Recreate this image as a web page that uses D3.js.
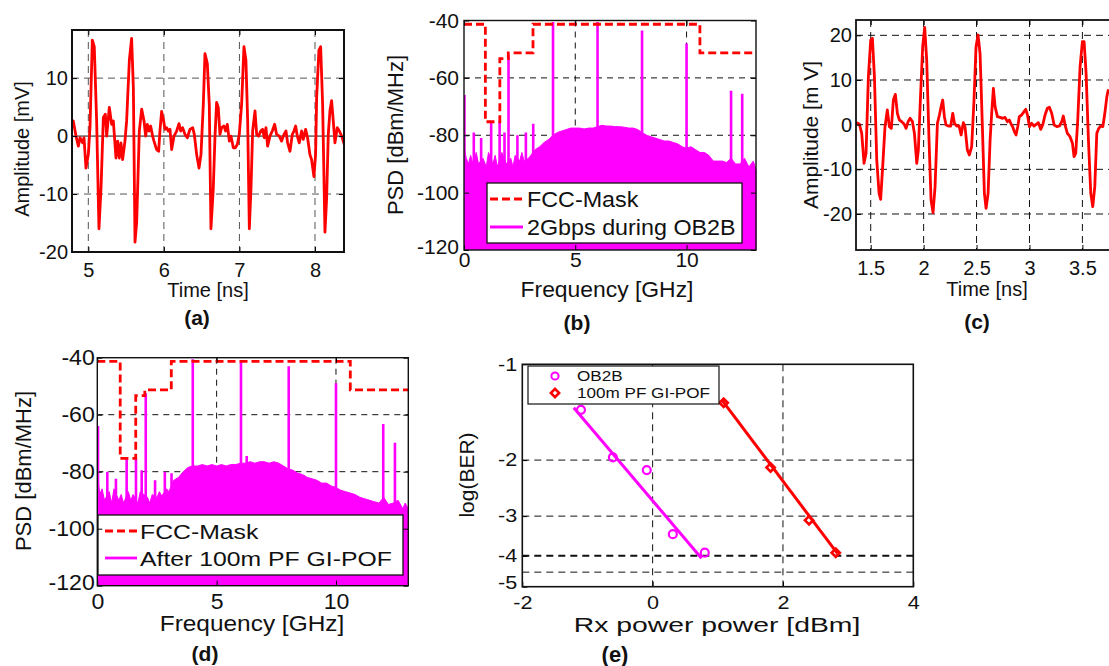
<!DOCTYPE html>
<html><head><meta charset="utf-8">
<script src="https://cdn.jsdelivr.net/npm/d3@7/dist/d3.min.js"></script>
<style>body{margin:0;background:#fff}</style>
</head><body><svg id="c" width="1109" height="666" xmlns="http://www.w3.org/2000/svg"></svg>
<script>
// ---------------- DATA ----------------
// (a) time waveform, 2 Gbps OB2B
const timeA = [4.779,4.801,4.837,4.868,4.890,4.925,4.943,4.969,5.000,5.022,5.053,5.079,5.110,5.141,5.168,5.199,5.225,5.243,5.278,5.309,5.331,5.366,5.388,5.410,5.432,5.454,5.485,5.507,5.543,5.573,5.596,5.618,5.640,5.675,5.706,5.737,5.759,5.781,5.803,5.825,5.851,5.869,5.904,5.931,5.948,5.970,5.993,6.015,6.037,6.059,6.081,6.103,6.134,6.169,6.200,6.222,6.248,6.279,6.310,6.345,6.381,6.403,6.434,6.465,6.491,6.522,6.544,6.575,6.601,6.623,6.654,6.676,6.698,6.720,6.742,6.764,6.795,6.817,6.840,6.866,6.888,6.919,6.945,6.972,6.998,7.029,7.060,7.086,7.109,7.131,7.153,7.175,7.206,7.228,7.254,7.281,7.307,7.329,7.351,7.373,7.404,7.435,7.466,7.492,7.528,7.558,7.589,7.616,7.638,7.669,7.700,7.722,7.744,7.766,7.792,7.823,7.845,7.876,7.902,7.933,7.955,7.986,8.008,8.022,8.052,8.075,8.101,8.132,8.154,8.176,8.198,8.220,8.242,8.264,8.295,8.322,8.353,8.388];
const ampA = [1.45,2.62,0,-1.74,-0.29,-1.16,-0.29,-5.52,-3.20,1.45,16.57,15.41,2.62,-15.99,-9.01,3.20,3.78,0,4.94,2.03,2.62,-3.78,-0.87,-3.78,-1.16,-4.07,-0.87,2.62,13.08,16.86,8.43,-18.31,-14.83,0.87,4.65,2.62,0,2.03,0.87,1.74,0,-0.87,-2.33,-2.62,0.87,4.24,2.91,1.16,1.45,0.87,1.16,-2.33,0,0.87,2.15,0.87,1.45,0.29,-0.29,1.16,1.45,0.29,-3.20,-5.52,-3.20,5.52,14.24,12.50,5.52,-15.99,-9.01,-0.29,5.81,4.94,0.29,1.45,1.74,0.87,2.03,-0.87,0,-2.03,-2.03,-1.45,0.29,5.52,15.41,13.08,2.62,-15.99,-9.01,0.87,4.36,0.29,0,0.87,1.16,-0.29,1.45,-1.74,0,0.87,2.03,0.29,0,-0.87,0.29,0.87,-1.16,-2.62,0.29,0.87,1.74,0,-1.16,0.87,-0.58,1.16,-0.29,-3.20,-4.07,-6.98,-3.20,6.69,14.83,15.41,5.52,-16.57,-10.76,0.29,4.36,6.10,2.62,-1.16,1.45,0.87,0,-1.45];
const ticksAx = [5,6,7,8];
const ticksAy = [-20,-10,0,10];

// (c) time waveform after 100m PF GI-POF
const timeC = [1.361,1.393,1.415,1.437,1.456,1.478,1.500,1.516,1.535,1.557,1.579,1.594,1.613,1.635,1.657,1.676,1.695,1.714,1.733,1.752,1.771,1.793,1.815,1.834,1.853,1.872,1.894,1.913,1.935,1.950,1.969,1.991,2.010,2.029,2.051,2.070,2.089,2.108,2.130,2.149,2.165,2.180,2.196,2.212,2.234,2.256,2.275,2.291,2.313,2.335,2.354,2.375,2.391,2.413,2.432,2.454,2.476,2.495,2.514,2.533,2.555,2.574,2.590,2.609,2.628,2.643,2.659,2.675,2.697,2.722,2.747,2.769,2.791,2.810,2.826,2.841,2.857,2.873,2.889,2.904,2.926,2.948,2.965,2.981,3.000,3.021,3.043,3.069,3.084,3.106,3.125,3.147,3.169,3.188,3.210,3.233,3.258,3.283,3.305,3.320,3.336,3.358,3.383,3.406,3.421,3.437,3.456,3.478,3.500,3.516,3.535,3.557,3.579,3.598,3.617,3.636,3.655,3.674,3.693,3.712,3.731,3.746];
const ampC = [0.45,0.15,-1.94,-8.66,-6.42,10.75,18.96,19.33,10.75,-7.91,-15.37,-16.72,-9.40,-0.45,3.28,-0.45,-0.82,5.52,6.79,2.54,1.04,0.67,0.15,-0.82,0.67,1.42,0.67,-1.94,-8.66,-5.67,5.52,17.46,21.79,14.48,-3.43,-16.87,-19.70,-13.88,0.30,2.16,4.03,5.52,1.79,-0.07,-0.30,-0.30,2.54,0.30,-0.30,-0.30,-2.31,0.45,-0.45,-5.67,-6.79,-4.93,5.52,17.46,20.07,15.97,-0.45,-15.37,-18.73,-15.37,-3.43,2.54,8.13,4.03,1.79,1.64,1.42,1.64,0.67,1.04,0.15,-0.45,-1.57,-2.31,-0.45,1.79,2.16,2.91,3.43,2.16,-0.45,0.30,-0.30,0.15,0.45,-1.04,-0.07,2.16,3.66,3.88,2.54,-0.07,-0.45,-0.30,0.67,1.94,-0.07,-1.94,-2.69,-4.18,-7.16,-6.42,1.04,12.99,18.58,18.58,11.49,-3.43,-15.37,-18.36,-13.88,-1.94,-0.82,-0.30,-0.45,2.54,6.27,7.91];
const ticksCx = [1.5,2,2.5,3,3.5];
const ticksCy = [-20,-10,0,10,20];

// FCC indoor UWB mask (GHz, dBm/MHz)
const maskFreq  = [0, 0.96, 1.61, 1.99, 3.1, 10.6, 13.2];
const maskLevel = [-41.3, -75.3, -53.3, -51.3, -41.3, -51.3, -51.3];

// (b) PSD 2Gbps during OB2B: envelope + discrete tones
const freqB = [0,0.05,0.1,0.2,0.3,0.4,0.55,0.65,0.85,1.0,1.1,1.3,1.4,1.5,1.7,1.9,2.1,2.2,2.3,2.5,2.6,2.7,2.9,3.0,3.2,3.4,3.6,3.8,4.0,4.2,4.4,4.6,4.8,5.0,5.2,5.4,5.6,5.8,6.0,6.2,6.4,6.6,6.8,7.0,7.2,7.4,7.6,7.8,8.0,8.2,8.4,8.6,8.8,9.0,9.2,9.4,9.6,9.8,10.0,10.2,10.4,10.6,10.8,11.0,11.2,11.4,11.6,11.8,12.0,12.2,12.4,12.6,12.8,13.0,13.12];
const psdB = [-84,-86,-88,-90,-87,-90,-86,-90,-88,-91,-86,-90,-87,-91,-86,-90,-88,-91,-87,-89,-86,-89,-88,-87,-85,-84,-82.5,-81.5,-80,-79,-78.5,-78,-77.5,-77.5,-77.5,-77.8,-77.5,-77.5,-77,-76.5,-76.8,-76.8,-77,-77,-77.2,-77.5,-77.5,-78,-79,-80,-80.5,-81,-81.5,-82,-82,-82.5,-83,-84,-84.5,-84,-85,-86,-86,-87,-89,-89,-89,-89.5,-88,-90,-90,-88,-91,-89,-92];
const toneFreqB = [0.02,0.44,0.77,1.22,1.60,1.82,2.00,2.40,2.78,3.11,4.00,6.00,8.00,10.00,12.00,12.50];
const tonePsdB  = [-66,-79,-81,-75,-75,-79,-52,-80,-79,-76,-40.5,-40.5,-43.5,-48,-64.5,-65.5];

// (d) PSD after 100m PF GI-POF
const freqD = [0,0.05,0.1,0.2,0.3,0.5,0.6,0.7,0.9,1.0,1.1,1.3,1.4,1.5,1.7,1.8,2.1,2.2,2.3,2.5,2.6,2.7,2.9,3.0,3.2,3.4,3.6,3.8,4.0,4.2,4.4,4.6,4.8,5.0,5.2,5.4,5.6,5.8,6.0,6.2,6.4,6.6,6.8,7.0,7.2,7.4,7.6,7.8,8.0,8.2,8.4,8.6,8.8,9.0,9.2,9.4,9.6,9.8,10.0,10.2,10.4,10.6,10.8,11.0,11.2,11.4,11.6,11.8,12.0,12.2,12.4,12.6,12.8,12.9,13.03];
const psdD = [-84,-84,-88,-86,-90,-87,-91,-86,-90,-88,-91,-87,-90,-88,-91,-87,-89,-91,-88,-89,-87,-88.5,-86,-87,-83,-82,-80,-78.5,-78,-78,-77.5,-78,-77.5,-78,-77.5,-78,-77.5,-77.5,-77,-77,-76.5,-77,-76.5,-76.5,-77,-76.5,-77,-78,-79,-79.5,-80.5,-81,-82,-82.5,-83,-84,-84,-85,-85.5,-86.5,-87,-87.5,-88,-89,-89.5,-90,-90.5,-91,-89,-91.5,-91,-90,-93,-91,-93];
const toneFreqD = [0.03,0.42,0.78,1.23,1.62,1.86,2.03,2.42,2.83,3.11,4.00,6.02,6.26,8.02,10.00,11.98,12.47];
const tonePsdD  = [-64,-80,-82.5,-75,-75.5,-79.5,-52.5,-83,-80,-80.5,-40.5,-41.3,-74.5,-43,-49,-63.3,-69.8];
const ticksPsdX = [0,5,10];
const ticksPsdY = [-40,-60,-80,-100,-120];

// (e) BER vs received power
const ob2bPower  = [-1.10,-0.61,-0.09,0.31,0.80];
const ob2bLogBer = [-1.39,-1.96,-2.15,-3.42,-3.91];
const ob2bFitPower = [-1.21,0.75], ob2bFitLogBer = [-1.37,-4.07];
const pofPower  = [1.09,1.81,2.40,2.81];
const pofLogBer = [-1.32,-2.11,-3.09,-3.91];
const pofFitPower = [1.07,2.835], pofFitLogBer = [-1.30,-3.93];
const ticksEx = [-2,0,2,4];
const ticksEy = [-1,-2,-3,-4,-5];

// ---------------- DRAW ----------------
const FONT = '"Liberation Sans", Arial, Helvetica, sans-serif';
const RED = '#ff0000', MAG = '#ff00ff';
const hyph = d => (d < 0 ? '-' + (-d) : String(d));
const svg = d3.select('#c');
svg.append('rect').attr('width',1109).attr('height',666).attr('fill','#fff');
const defs = svg.append('defs');
let clipN = 0;
function clip(x0,y0,x1,y1){
  const id='clip'+(clipN++);
  defs.append('clipPath').attr('id',id).append('rect').attr('x',x0).attr('y',y0).attr('width',x1-x0).attr('height',y1-y0);
  return 'url(#'+id+')';
}
function txt(x,y,s,o={}){
  return svg.append('text')
    .attr('transform',`translate(${x},${y}) rotate(${o.rot||0}) scale(${o.sx||1},1)`)
    .attr('text-anchor',o.anchor||'middle').attr('font-family',FONT)
    .attr('font-size',o.size||20).attr('font-weight',o.weight||'normal').attr('fill','#111').text(s);
}
function axesFrame(x,y,o){
  const [x0,x1]=x.range(), [y1,y0]=y.range();
  const g = svg.append('g');
  const la = g.append('g').attr('transform',`translate(${x0},0)`)
    .call(d3.axisLeft(y).tickValues(o.yt).tickFormat(hyph).tickSizeInner(-5).tickSizeOuter(0).tickPadding(o.ypad));
  la.attr('font-size',o.ysize).attr('font-family',FONT);
  if(o.ysx){la.selectAll('text').attr('transform',`scale(${o.ysx},1)`).attr('x',-o.ypad/o.ysx);}
  if(o.ylift){la.selectAll('.tick').filter(d=>d===o.ylift.v).select('text').attr('dy',o.ylift.dy);}
  const ba = g.append('g').attr('transform',`translate(0,${y1})`)
    .call(d3.axisBottom(x).tickValues(o.xt).tickFormat(hyph).tickSizeInner(-5).tickSizeOuter(0).tickPadding(o.xpad));
  ba.attr('font-size',o.xsize).attr('font-family',FONT);
  if(o.xsx){ba.selectAll('text').attr('transform',`scale(${o.xsx},1)`);}
  g.append('g').attr('transform',`translate(${x1},0)`).call(d3.axisRight(y).tickValues(o.yt).tickFormat('').tickSizeInner(-5).tickSizeOuter(0));
  g.append('g').attr('transform',`translate(0,${y0})`).call(d3.axisTop(x).tickValues(o.xt).tickFormat('').tickSizeInner(-5).tickSizeOuter(0));
  g.selectAll('.domain').remove();
  g.selectAll('text').attr('fill','#111');
  g.selectAll('.tick line').attr('stroke','#000').attr('stroke-width',1);
  svg.append('rect').attr('x',x0).attr('y',y0).attr('width',x1-x0).attr('height',y1-y0)
    .attr('fill','none').attr('stroke','#111').attr('stroke-width',o.fw||1.4);
}
function grid(x,y,xs,ys,o={}){
  const [x0,x1]=x.range(), [y1,y0]=y.range();
  const g = svg.append('g').attr('stroke',o.color||'#222').attr('stroke-width',o.w||1).attr('stroke-dasharray',o.dash||'6,5');
  xs.forEach(v=>g.append('line').attr('x1',x(v)).attr('x2',x(v)).attr('y1',y0).attr('y2',y1));
  ys.forEach(v=>g.append('line').attr('x1',x0).attr('x2',x1).attr('y1',y(v)).attr('y2',y(v)));
}

// ===== (a) =====
{
  const x = d3.scaleLinear().domain([4.784,8.384]).range([72,344]);
  const y = d3.scaleLinear().domain([-20,18.3]).range([252,30]);
  grid(x,y,ticksAx,[-10,10],{color:'#555',dash:'7,5'});
  svg.append('line').attr('x1',72).attr('x2',344).attr('y1',y(0)).attr('y2',y(0)).attr('stroke','#111').attr('stroke-width',1);
  svg.append('path').datum(d3.zip(timeA,ampA)).attr('clip-path',clip(72,30,344,252))
    .attr('fill','none').attr('stroke',RED).attr('stroke-width',2.8).attr('stroke-linejoin','round')
    .attr('d',d3.line().x(d=>x(d[0])).y(d=>y(d[1])));
  axesFrame(x,y,{yt:ticksAy,xt:ticksAx,ypad:4,xpad:10.5,ysize:20,xsize:20,fw:2});
  txt(29,149,'Amplitude [mV]',{rot:-90,size:20});
  txt(208,297,'Time [ns]',{size:20});
  txt(197,325,'(a)',{size:21,weight:'bold'});
}

// ===== PSD panel helper =====
function psdPanel(x,y,freq,psd,tf,tp,legendText,leg,lab){
  const [x0,x1]=x.range(), [y1,y0]=y.range();
  grid(x,y,[5,10],[-60,-80,-100],{color:'#111',dash:'6,5'});
  const cp = clip(x0,y0,x1+2,y1);
  svg.append('path').datum(d3.zip(freq,psd)).attr('clip-path',cp)
    .attr('fill',MAG).attr('stroke',MAG).attr('stroke-width',1)
    .attr('d',d3.area().x(d=>x(d[0])).y0(y(-120)).y1(d=>y(d[1])));
  const tg = svg.append('g').attr('clip-path',cp).attr('stroke',MAG).attr('stroke-width',2.6);
  d3.zip(tf,tp).forEach(d=>tg.append('line').attr('x1',x(d[0])).attr('x2',x(d[0])).attr('y1',y(-120)).attr('y2',y(d[1])));
  svg.append('path').datum(d3.zip(maskFreq,maskLevel)).attr('clip-path',clip(x0,y0-3,x1,y1))
    .attr('fill','none').attr('stroke',RED).attr('stroke-width',2.8).attr('stroke-dasharray','8,4')
    .attr('d',d3.line().curve(d3.curveStepAfter).x(d=>x(d[0])).y(d=>y(d[1])));
  svg.append('rect').attr('x',leg.x).attr('y',leg.y).attr('width',leg.w).attr('height',leg.h)
    .attr('fill','#fff').attr('stroke','#111').attr('stroke-width',1.3);
  svg.append('line').attr('x1',leg.lx0).attr('x2',leg.lx1).attr('y1',leg.r1).attr('y2',leg.r1)
    .attr('stroke',RED).attr('stroke-width',2.8).attr('stroke-dasharray','8,4');
  svg.append('line').attr('x1',leg.lx0).attr('x2',leg.lx1).attr('y1',leg.r2).attr('y2',leg.r2)
    .attr('stroke',MAG).attr('stroke-width',2.8);
  txt(leg.tx,leg.r1+8,'FCC-Mask',{anchor:'start',size:leg.size,sx:leg.sx});
  txt(leg.tx,leg.r2+8,legendText,{anchor:'start',size:leg.size,sx:leg.sx});
  axesFrame(x,y,{yt:ticksPsdY,xt:ticksPsdX,ypad:lab.ypad,xpad:lab.xpad,ysize:lab.tsize,xsize:lab.tsize,ysx:lab.tsx,xsx:lab.tsx,ylift:{v:-120,dy:'0.15em'}});
}

// ===== (b) =====
{
  const x = d3.scaleLinear().domain([0,13.12]).range([464,756]);
  const y = d3.scaleLinear().domain([-120,-40]).range([250,20.5]);
  psdPanel(x,y,freqB,psdB,toneFreqB,tonePsdB,'2Gbps during OB2B',
    {x:487,y:183,w:255,h:60,lx0:490,lx1:523,tx:527,r1:199,r2:227,size:22,sx:1.06},
    {ypad:5,xpad:2,tsize:21});
  txt(403,135,'PSD [dBm/MHz]',{rot:-90,size:22});
  txt(607,297,'Frequency [GHz]',{size:22,sx:1.04});
  txt(577,330,'(b)',{size:21,weight:'bold'});
}

// ===== (c) =====
{
  const x = d3.scaleLinear().domain([1.361,3.808]).range([856,1115]);
  const y = d3.scaleLinear().domain([-28.06,23.43]).range([250,20]);
  grid(x,y,ticksCx,ticksCy,{color:'#111',dash:'7,5'});
  svg.append('path').datum(d3.zip(timeC,ampC)).attr('clip-path',clip(856,20,1115,250))
    .attr('fill','none').attr('stroke',RED).attr('stroke-width',2.8).attr('stroke-linejoin','round')
    .attr('d',d3.line().x(d=>x(d[0])).y(d=>y(d[1])));
  axesFrame(x,y,{yt:ticksCy,xt:ticksCx,ypad:4,xpad:10.5,ysize:20,xsize:20,fw:1.8});
  txt(818,135,'Amplitude [m V]',{rot:-90,size:21});
  txt(987,296,'Time [ns]',{size:20});
  txt(977,329,'(c)',{size:21,weight:'bold'});
}

// ===== (d) =====
{
  const x = d3.scaleLinear().domain([0,13.03]).range([97.3,408.3]);
  const y = d3.scaleLinear().domain([-120,-40]).range([585.7,357.7]);
  psdPanel(x,y,freqD,psdD,toneFreqD,tonePsdD,'After 100m PF GI-POF',
    {x:98,y:515,w:305,h:60,lx0:105,lx1:137,tx:140,r1:531,r2:558,size:21,sx:1.18},
    {ypad:2.5,xpad:7.5,tsize:22,tsx:1.05});
  txt(31,471,'PSD [dBm/MHz]',{rot:-90,size:22});
  txt(252,631,'Frequency [GHz]',{size:22,sx:1.11});
  txt(205,661,'(d)',{size:21,weight:'bold'});
}

// ===== (e) =====
{
  const x = d3.scaleLinear().domain([-2,4]).range([522.3,913.3]);
  const yl = d3.scaleLog().domain([1,5]).range([364.3,586.7]);
  const y = v => yl(-v);
  const g = svg.append('g').attr('stroke','#111').attr('stroke-dasharray','7,5');
  [0,2].forEach(v=>g.append('line').attr('x1',x(v)).attr('x2',x(v)).attr('y1',364.3).attr('y2',586.7).attr('stroke-width',1));
  [[-2,1],[-3,1],[-4,2],[-4.5,1]].forEach(([v,w])=>g.append('line').attr('x1',522.3).attr('x2',916).attr('y1',y(v)).attr('y2',y(v)).attr('stroke-width',w));
  const line = d3.line().x(d=>x(d[0])).y(d=>y(d[1]));
  svg.append('path').datum(d3.zip(ob2bFitPower,ob2bFitLogBer)).attr('d',line).attr('stroke',MAG).attr('stroke-width',3).attr('fill','none');
  svg.append('path').datum(d3.zip(pofFitPower,pofFitLogBer)).attr('d',line).attr('stroke',RED).attr('stroke-width',3).attr('fill','none');
  d3.zip(ob2bPower,ob2bLogBer).forEach(d=>svg.append('circle').attr('cx',x(d[0])).attr('cy',y(d[1])).attr('r',4)
    .attr('fill','none').attr('stroke',MAG).attr('stroke-width',2.2));
  const sq = d3.symbol().type(d3.symbolSquare).size(34);
  d3.zip(pofPower,pofLogBer).forEach(d=>svg.append('path').attr('d',sq())
    .attr('transform',`translate(${x(d[0])},${y(d[1])}) rotate(45)`).attr('fill','none').attr('stroke',RED).attr('stroke-width',2.6));
  const fg = svg.append('g');
  const la = fg.append('g').attr('transform','translate(522.3,0)')
    .call(d3.axisLeft(yl).tickValues(ticksEy.map(v=>-v)).tickFormat(d=>'-'+d).tickSizeInner(-5).tickSizeOuter(0).tickPadding(5));
  la.attr('font-size',18).attr('font-family',FONT);
  la.selectAll('text').attr('transform','scale(1.2,1)').attr('x',-5/1.2).attr('fill','#111');
  la.selectAll('.tick').filter(d=>d===5).select('text').attr('dy','0.1em');
  const ba = fg.append('g').attr('transform','translate(0,586.7)')
    .call(d3.axisBottom(x).tickValues(ticksEx).tickFormat(hyph).tickSizeInner(-5).tickSizeOuter(0).tickPadding(10));
  ba.attr('font-size',18).attr('font-family',FONT);
  ba.selectAll('text').attr('transform','scale(1.2,1)').attr('fill','#111');
  fg.selectAll('.domain').remove();
  fg.selectAll('.tick line').attr('stroke','#000');
  svg.append('rect').attr('x',522.3).attr('y',364.3).attr('width',391).attr('height',222.4)
    .attr('fill','none').attr('stroke','#111').attr('stroke-width',1.6);
  svg.append('rect').attr('x',528).attr('y',366).attr('width',191).attr('height',38).attr('fill','#fff').attr('stroke','#111').attr('stroke-width',1.2);
  svg.append('circle').attr('cx',555).attr('cy',376).attr('r',3.6).attr('fill','none').attr('stroke',MAG).attr('stroke-width',2);
  svg.append('path').attr('d',sq()).attr('transform','translate(555,393) rotate(45)').attr('fill','none').attr('stroke',RED).attr('stroke-width',2.6);
  txt(577,381,'OB2B',{anchor:'start',size:14.5,sx:1.18});
  txt(577,398,'100m PF GI-POF',{anchor:'start',size:14.5,sx:1.18});
  txt(474,475,'log(BER)',{rot:-90,size:21});
  txt(717,632,'Rx power power [dBm]',{size:21,sx:1.35});
  txt(615,662,'(e)',{size:22,weight:'bold'});
}
</script></body></html>
